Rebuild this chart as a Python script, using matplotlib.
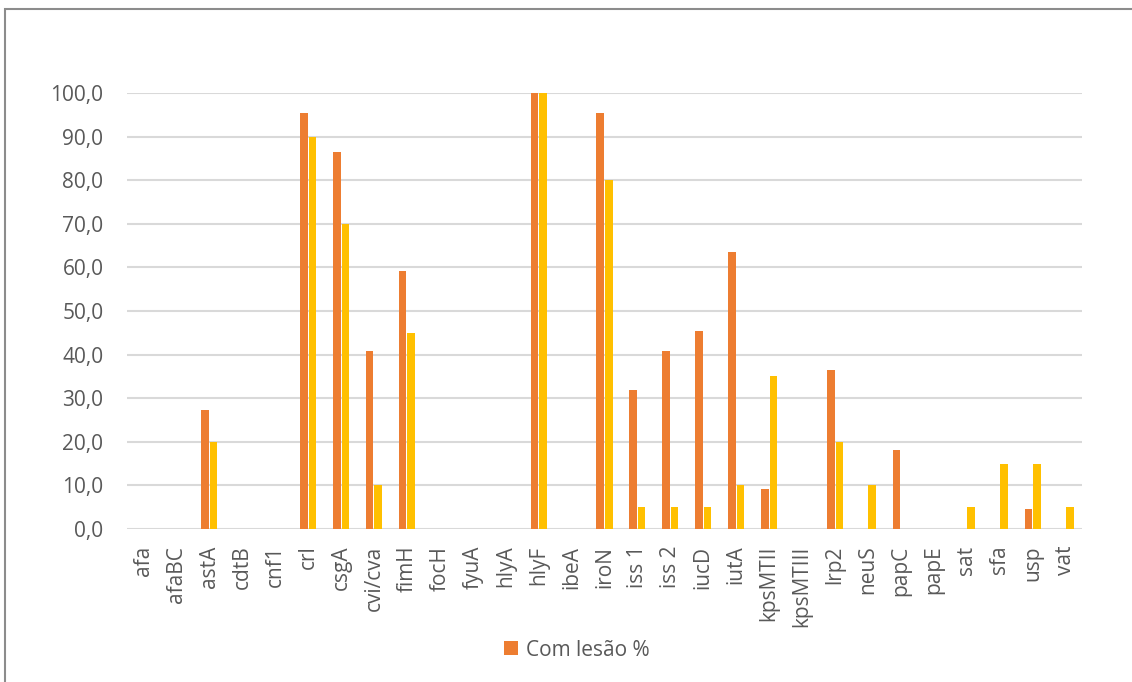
import numpy as np
import matplotlib.pyplot as plt
from matplotlib.patches import Rectangle
from matplotlib.ticker import FuncFormatter

genes = ['afa', 'afaBC', 'astA', 'cdtB', 'cnf1', 'crl', 'csgA', 'cvi/cva', 'fimH',
         'focH', 'fyuA', 'hlyA', 'hlyF', 'ibeA', 'iroN', 'iss 1', 'iss 2', 'iucD',
         'iutA', 'kpsMTII', 'kpsMTIII', 'lrp2', 'neuS', 'papC', 'papE', 'sat', 'sfa',
         'usp', 'vat']
com_lesao = [0, 0, 27.3, 0, 0, 95.5, 86.4, 40.9, 59.1,
             0, 0, 0, 100.0, 0, 95.5, 31.8, 40.9, 45.5,
             63.6, 9.1, 0, 36.4, 0, 18.2, 0, 0, 0,
             4.5, 0]
sem_lesao = [0, 0, 20.0, 0, 0, 90.0, 70.0, 10.0, 45.0,
             0, 0, 0, 100.0, 0, 80.0, 5.0, 5.0, 5.0,
             10.0, 35.0, 0, 20.0, 10.0, 0, 0, 5.0, 15.0,
             15.0, 5.0]

plt.rcParams['font.family'] = ['Open Sans', 'DejaVu Sans']
text_color = '#595959'
fs = 15

fig = plt.figure(figsize=(11.32, 6.82), dpi=100)
ax = fig.add_axes([127 / 1132, 1 - 529 / 682, 955 / 1132, 436 / 682])

x = np.arange(len(genes))
w = 0.23
ax.bar(x - 0.13, com_lesao, w, color='#ED7D31', label='Com lesão %')
ax.bar(x + 0.13, sem_lesao, w, color='#FFC000')

ax.set_xlim(-0.5, len(genes) - 0.5)
ax.set_ylim(0, 100)
ax.set_yticks(np.arange(0, 101, 10))
ax.yaxis.set_major_formatter(FuncFormatter(lambda v, p: f'{v:.1f}'.replace('.', ',')))
ax.set_xticks(x)
ax.set_xticklabels(genes, rotation=90)
ax.tick_params(axis='both', length=0, labelsize=fs, colors=text_color)
ax.tick_params(axis='x', pad=12)
ax.tick_params(axis='y', pad=17)
ax.grid(axis='y', color='#d9d9d9', linewidth=1.5)
ax.set_axisbelow(True)
for s in ax.spines.values():
    s.set_visible(False)

leg = fig.legend(loc='center', bbox_to_anchor=(577 / 1132, 1 - 650 / 682), frameon=False,
                 fontsize=fs, handlelength=0.65, handleheight=0.65, handletextpad=0.4)
for t in leg.get_texts():
    t.set_color(text_color)

# outer chart frame
fig.patches.append(Rectangle((5 / 1132, -0.1), 1.2, 1 - 9 / 682 + 0.1, transform=fig.transFigure,
                             fill=False, edgecolor='#8c8c8c', linewidth=1.5))

fig.savefig('out.png', dpi=100)
